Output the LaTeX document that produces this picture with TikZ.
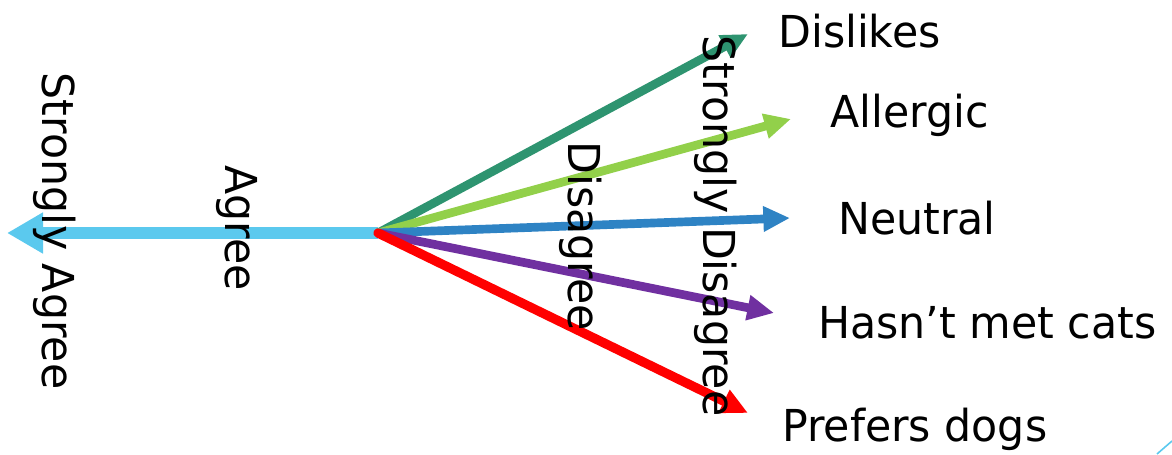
\documentclass[tikz,border=0pt]{standalone}
\usepackage{fontspec}
\setmainfont{DejaVu Sans}[FakeStretch=0.97]
\usetikzlibrary{arrows.meta}
\definecolor{skyb}{HTML}{5BC9EE}
\definecolor{dgreen}{HTML}{2E9470}
\definecolor{lgreen}{HTML}{92D04A}
\definecolor{midblue}{HTML}{2E83C4}
\definecolor{purp}{HTML}{7030A0}
\definecolor{redc}{HTML}{FF0000}
\begin{document}
\begin{tikzpicture}[x=0.75pt,y=-0.75pt,
  lbl/.style={font=\fontsize{33}{40}\selectfont, inner sep=0pt},
  vlbl/.style={lbl, rotate=-90},
  hlbl/.style={lbl, anchor=base west},
  bigarrow/.style={line width=9pt, -{Triangle[length=27pt,width=29pt]}},
  arr/.style={line width=6.5pt, -{Triangle[length=20pt,width=18pt]}}]
\useasboundingbox (0,0) rectangle (1172,454);
\coordinate (O) at (378,233);
\coordinate (tSA) at (7,233);
\coordinate (tDis) at (748,34);
\coordinate (tAll) at (791,119);
\coordinate (tNeu) at (790,218);
\coordinate (tHas) at (774,313);
\coordinate (tPre) at (748,413);
\draw[bigarrow, skyb] (O) -- (tSA);
\draw[arr, dgreen] (O) -- (tDis);
\draw[arr, lgreen] (O) -- (tAll);
\draw[arr, midblue] (O) -- (tNeu);
\draw[arr, purp] (O) -- (tHas);
\draw[arr, redc, line width=7pt, line cap=round] (O) -- (tPre);
\node[vlbl] (sa) at (55,231) {Strongly Agree};
\node[vlbl] (ag) at (237,228) {Agree};
\node[vlbl] (di) at (581,236) {Disagree};
\node[vlbl] (sd) at (716,226) {Strongly Disagree};
\node[hlbl] (dis) at (778,47) {Dislikes};
\node[hlbl] (all) at (830,127) {Allergic};
\node[hlbl] (neu) at (838,234) {Neutral};
\node[hlbl] (has) at (818,338) {Hasn’t met cats};
\node[hlbl] (pre) at (782,441) {Prefers dogs};
\draw[skyb, line width=1.2pt] (1157,454) -- (1172,441);
\end{tikzpicture}
\end{document}
